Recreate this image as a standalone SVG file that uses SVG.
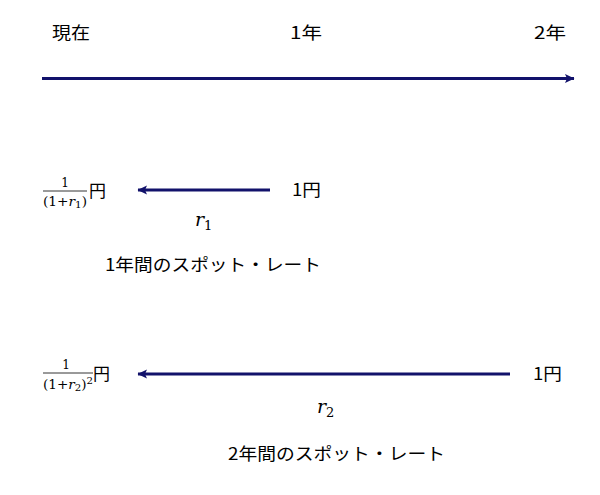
<svg xmlns="http://www.w3.org/2000/svg" width="600" height="495" viewBox="0 0 600 495">
<style>
.jp{font-family:"Noto Sans CJK JP","Noto Sans",sans-serif;font-size:17px;fill:#000}
.m{font-family:"DejaVu Serif","Liberation Serif",serif;fill:#000}
.it{font-style:italic}
.ln{stroke:#12126b;stroke-width:3;fill:none}
.fb{stroke:#000;stroke-width:0.8}
</style>
<defs>
<marker id="ah" markerUnits="userSpaceOnUse" markerWidth="10" markerHeight="10" refX="9" refY="5" orient="auto">
<path d="M0,0.5 L9.5,5 L0,9.5 L2,5 z" fill="#12126b"/>
</marker>
</defs>
<rect width="600" height="495" fill="#fff"/>
<g id="connectors">
<line class="ln" x1="42" y1="78.5" x2="574" y2="78.5" marker-end="url(#ah)"/>
<line class="ln" x1="270" y1="190" x2="138" y2="190" marker-end="url(#ah)"/>
<line class="ln" x1="510" y1="374" x2="138" y2="374" marker-end="url(#ah)"/>
</g>
<g id="timeline-labels">
<text class="jp" x="52" y="39" textLength="38" lengthAdjust="spacingAndGlyphs">現在</text>
<text class="jp" x="290" y="39" textLength="32" lengthAdjust="spacingAndGlyphs">1年</text>
<text class="jp" x="534" y="39" textLength="32" lengthAdjust="spacingAndGlyphs">2年</text>
</g>
<g id="row1-pv">
<text class="m" x="65" y="187" font-size="12" text-anchor="middle">1</text>
<line class="fb" x1="43" y1="191" x2="87" y2="191"/>
<text class="m" x="43" y="206" font-size="12" textLength="44" lengthAdjust="spacingAndGlyphs">(1+<tspan class="it">r</tspan><tspan font-size="9" dy="2">1</tspan><tspan dy="-2">)</tspan></text>
<text class="jp" x="89" y="197">円</text>
</g>
<g id="row1-fv">
<text class="jp" x="292" y="196" textLength="29" lengthAdjust="spacingAndGlyphs">1円</text>
</g>
<g id="row1-rate">
<text class="m" x="195" y="226" font-size="19"><tspan class="it">r</tspan><tspan font-size="13" dy="4">1</tspan></text>
<text class="jp" x="105" y="271" textLength="216" lengthAdjust="spacingAndGlyphs">1年間のスポット・レート</text>
</g>
<g id="row2-pv">
<text class="m" x="66" y="369" font-size="12" text-anchor="middle">1</text>
<line class="fb" x1="43" y1="373" x2="93" y2="373"/>
<text class="m" x="43" y="389" font-size="12" textLength="50" lengthAdjust="spacingAndGlyphs">(1+<tspan class="it">r</tspan><tspan font-size="9" dy="2">2</tspan><tspan dy="-2">)</tspan><tspan font-size="9" dy="-5">2</tspan></text>
<text class="jp" x="93" y="380">円</text>
</g>
<g id="row2-fv">
<text class="jp" x="533" y="380" textLength="29" lengthAdjust="spacingAndGlyphs">1円</text>
</g>
<g id="row2-rate">
<text class="m" x="317" y="413" font-size="19"><tspan class="it">r</tspan><tspan font-size="13" dy="4">2</tspan></text>
<text class="jp" x="228" y="460" textLength="217" lengthAdjust="spacingAndGlyphs">2年間のスポット・レート</text>
</g>
</svg>
